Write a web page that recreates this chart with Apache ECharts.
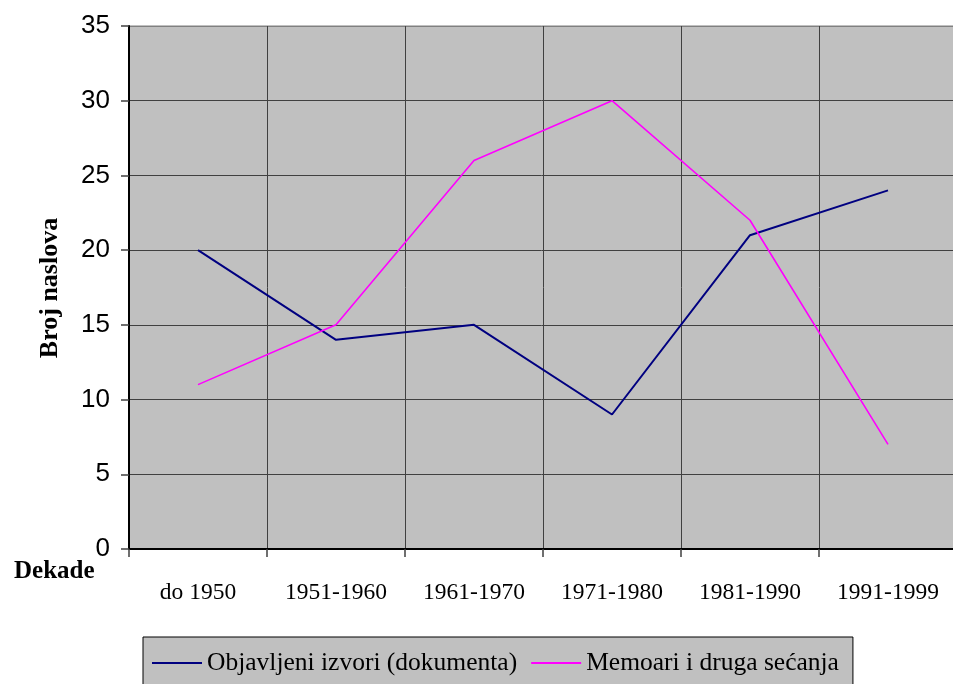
<!DOCTYPE html>
<html>
<head>
<meta charset="utf-8">
<script src="https://cdn.jsdelivr.net/npm/echarts@6/dist/echarts.min.js"></script>
<style>html,body{margin:0;padding:0;background:#fff;}#c{width:953px;height:684px;}</style>
</head>
<body>
<div id="c"></div>
<script>
var categories = ['do 1950', '1951-1960', '1961-1970', '1971-1980', '1981-1990', '1991-1999'];
var objavljeni = [20, 14, 15, 9, 21, 24];
var memoari = [11, 15, 26, 30, 22, 7];
var seriesNames = ['Objavljeni izvori (dokumenta)', 'Memoari i druga sećanja'];
var yTitle = 'Broj naslova';
var xTitle = 'Dekade';

var chart = echarts.init(document.getElementById('c'), null, {renderer: 'canvas'});
chart.setOption({
  animation: false,
  backgroundColor: '#ffffff',
  grid: {left: 129, top: 26, width: 828, height: 523, outerBoundsMode: 'none', containLabel: false, show: true, backgroundColor: '#C0C0C0', borderColor: '#808080', borderWidth: 1},
  xAxis: {
    type: 'category', data: categories, boundaryGap: true,
    axisLine: {lineStyle: {color: '#000', width: 2}},
    axisTick: {show: true, length: 8, lineStyle: {color: '#404040', width: 1.5}},
    axisLabel: {fontFamily: 'Liberation Serif', fontSize: 23.5, color: '#000', margin: 32},
    splitLine: {show: true, lineStyle: {color: '#404040', width: 1}}
  },
  yAxis: {
    type: 'value', min: 0, max: 35, interval: 5,
    axisLine: {show: true, lineStyle: {color: '#000', width: 2}},
    axisTick: {show: true, length: 8, lineStyle: {color: '#404040', width: 1.5}},
    axisLabel: {fontFamily: 'Liberation Sans', fontSize: 26, color: '#000', margin: 19},
    splitLine: {show: true, lineStyle: {color: ['#404040','#404040','#404040','#404040','#404040','#404040','#404040','#808080'], width: 1}}
  },
  legend: {
    show: true, left: 143, top: 637,
    backgroundColor: '#C0C0C0', borderColor: '#000', borderWidth: 1,
    padding: [13, 14, 30, 9],
    icon: 'rect', itemWidth: 50, itemHeight: 2, itemGap: 14,
    textStyle: {fontFamily: 'Liberation Serif', fontSize: 25.5, color: '#000'},
    data: seriesNames
  },
  graphic: [
    {type: 'text', left: 14, top: 559, style: {text: xTitle, font: 'bold 25px "Liberation Serif"', fill: '#000'}},
    {type: 'text', x: 50, y: 288, rotation: Math.PI / 2, style: {text: yTitle, font: 'bold 26px "Liberation Serif"', fill: '#000', align: 'center', verticalAlign: 'middle'}}
  ],
  series: [
    {name: seriesNames[0], type: 'line', data: objavljeni, symbol: 'none', lineStyle: {color: '#000080', width: 2}, itemStyle: {color: '#000080'}},
    {name: seriesNames[1], type: 'line', data: memoari, symbol: 'none', lineStyle: {color: '#FF00FF', width: 1.6}, itemStyle: {color: '#FF00FF'}}
  ]
});
</script>
</body>
</html>
